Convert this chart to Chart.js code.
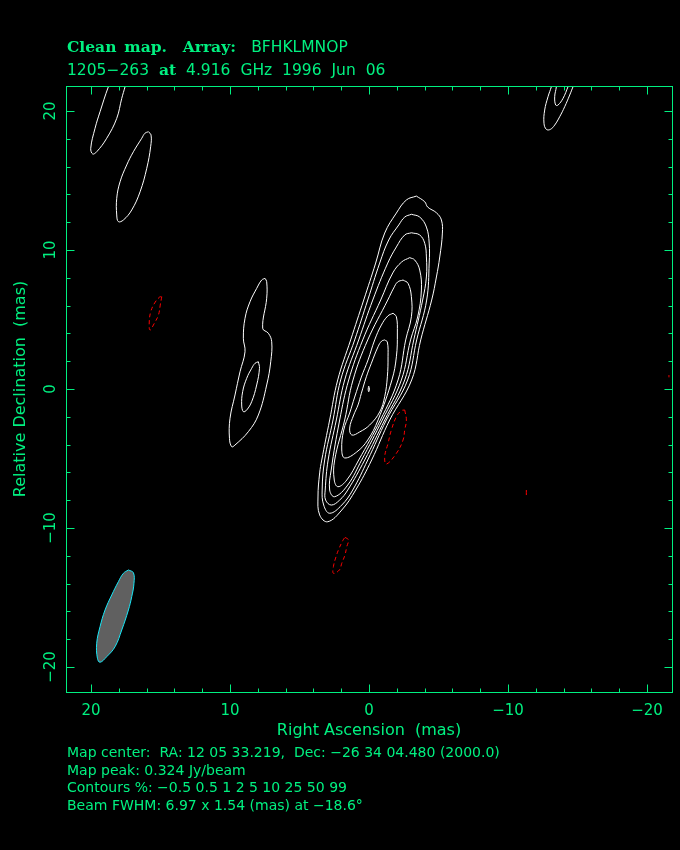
<!DOCTYPE html>
<html>
<head>
<meta charset="utf-8">
<script src="https://cdn.jsdelivr.net/npm/chart.js@4.4.1/dist/chart.umd.min.js"></script>
<style>
  html, body { margin: 0; padding: 0; background: #000; }
  #wrap { position: relative; width: 680px; height: 850px; background: #000; }
  #map { position: absolute; left: 0; top: 0; }
  .txt { position: absolute; left: 67px; color: #00f080; font-family: 'DejaVu Sans', sans-serif; white-space: pre; }
  .hdr { font-size: 15.5px; line-height: 20px; }
  .serif { font-family: 'DejaVu Serif', serif; font-weight: bold; }
  #foot { top: 744px; font-size: 14px; line-height: 17.7px; }
</style>
</head>
<body>
<div id="wrap">
  <canvas id="map" width="680" height="850"></canvas>
  <div class="txt hdr" style="top:37px; word-spacing:2.5px"><span class="serif">Clean map.  Array: </span> BFHKLMNOP</div>
  <div class="txt hdr" style="top:60px; word-spacing:5px">1205−263 <span class="serif">at</span> 4.916 GHz 1996 Jun 06</div>
  <div class="txt" id="foot"></div>
</div>
<script>
// map info (mas offsets from map centre, RA increases to the left)
const mapCenter = 'RA: 12 05 33.219,  Dec: −26 34 04.480 (2000.0)';
const mapPeak = 0.324;                       // Jy/beam
const contourLevels = [-0.5, 0.5, 1, 2, 5, 10, 25, 50, 99];
const beamFwhm = [6.97, 1.54, -18.6];        // major, minor (mas), PA (deg)

const tickValues = [-20, -18, -16, -14, -12, -10, -8, -6, -4, -2, 0, 2, 4, 6, 8, 10, 12, 14, 16, 18, 20];
const tickLabels = [20, 10, 0, -10, -20];

// contours, [RA, Dec] in mas
const core05 = [[-3.41,13.88],[-4.01,13.47],[-4.22,13.09],[-4.85,12.68],[-5.21,12.16],[-5.28,11.22],[-5.09,9.50],[-4.85,8.06],[-4.51,6.40],[-3.72,3.53],[-3.07,0.65],[-1.49,-2.23],[-0.19,-5.11],[0.96,-7.27],[1.96,-8.71],[2.97,-9.55],[3.55,-9.06],[3.67,-7.77],[3.55,-6.04],[3.40,-5.11],[2.83,-2.23],[2.25,0.65],[1.32,3.53],[0.38,6.40],[-0.48,9.06],[-1.13,11.22],[-1.97,12.66],[-2.69,13.60]];
const core1 = [[-3.05,12.57],[-3.65,12.37],[-4.13,11.65],[-4.33,10.50],[-4.33,9.06],[-4.15,6.40],[-3.43,3.53],[-2.78,0.65],[-1.25,-2.23],[0.09,-5.11],[1.17,-7.27],[1.96,-8.35],[2.83,-8.94],[3.26,-8.35],[3.37,-7.27],[3.19,-5.11],[2.59,-2.23],[2.04,0.65],[1.03,3.53],[0.09,6.40],[-0.77,9.06],[-1.42,10.72],[-2.14,11.80],[-2.57,12.37]];
const core2 = [[-3.05,11.24],[-3.65,11.08],[-4.01,10.48],[-4.13,9.50],[-4.13,8.06],[-3.86,6.40],[-3.22,3.53],[-2.57,0.65],[-1.13,-2.23],[0.31,-5.11],[1.53,-7.27],[2.11,-7.99],[2.71,-8.35],[3.12,-7.99],[3.15,-7.27],[2.94,-5.11],[2.35,-2.23],[1.75,0.65],[0.74,3.53],[-0.27,6.40],[-1.35,9.06],[-1.97,10.22],[-2.57,11.08]];
const core5 = [[-2.93,9.45],[-3.29,9.28],[-3.65,8.56],[-3.77,7.12],[-3.50,5.18],[-2.99,3.53],[-2.33,0.65],[-0.96,-2.23],[0.53,-5.11],[1.53,-6.91],[2.47,-7.75],[2.83,-7.27],[2.72,-5.83],[2.11,-2.23],[1.46,0.65],[0.45,3.53],[-0.84,6.40],[-1.71,8.35],[-2.35,9.14]];
const core10 = [[-2.45,7.84],[-2.81,7.60],[-3.05,6.64],[-3.05,5.20],[-2.64,3.53],[-2.09,0.65],[-0.82,-2.23],[0.74,-5.11],[1.60,-6.55],[2.23,-7.03],[2.50,-6.55],[2.47,-5.11],[1.75,-2.23],[1.15,0.65],[0.09,3.53],[-1.35,6.40],[-1.78,7.27],[-2.06,7.70]];
const core25 = [[-1.73,5.45],[-1.97,5.20],[-2.04,4.03],[-1.97,2.32],[-1.65,0.65],[-0.65,-2.23],[0.09,-3.67],[0.88,-4.53],[1.75,-4.96],[1.96,-4.39],[1.82,-2.95],[1.39,-1.73],[1.03,-0.58],[0.55,0.86],[0.07,2.09],[-0.41,3.53],[-0.89,4.60],[-1.35,5.25]];
const core50 = [[-1.13,3.53],[-1.32,3.38],[-1.37,2.32],[-1.32,0.88],[-1.13,-0.55],[-0.77,-1.65],[-0.05,-2.59],[0.67,-3.09],[1.24,-3.31],[1.39,-2.81],[1.10,-1.87],[0.79,-1.15],[0.55,-0.31],[0.19,0.88],[-0.17,1.85],[-0.65,3.04],[-0.91,3.45]];
const core99 = [[0.02,0.20],[-0.03,0.00],[0.02,-0.20],[0.06,0.00]];

const knotA = [[18.51,22.23],[18.75,21.75],[19.35,19.95],[19.71,18.76],[20.02,17.32],[19.88,16.91],[19.59,17.07],[18.87,18.04],[18.15,19.47],[17.79,20.91],[17.55,21.75],[17.43,22.23]];
const knotB = [[15.87,18.51],[15.68,18.27],[15.71,17.43],[15.99,15.88],[16.47,14.19],[17.07,12.88],[17.67,12.16],[18.03,12.04],[18.15,12.52],[18.15,13.72],[17.91,14.91],[17.43,16.12],[16.95,17.07],[16.35,18.04],[16.12,18.40]];
const knotC = [[7.48,7.96],[7.36,7.72],[7.36,6.53],[7.65,4.37],[7.24,4.01],[7.00,3.40],[7.07,1.96],[7.36,0.29],[7.96,-1.87],[8.68,-3.07],[9.64,-4.03],[9.88,-4.15],[10.04,-3.55],[10.00,-2.11],[9.64,-0.43],[9.28,1.24],[8.92,2.68],[9.04,3.65],[8.92,5.09],[8.56,6.28],[8.08,7.24],[7.72,7.84]];
const knotCin = [[7.96,1.96],[7.88,1.49],[8.08,0.29],[8.44,-0.91],[8.80,-1.51],[9.04,-1.63],[9.16,-1.15],[9.09,-0.19],[8.80,0.77],[8.44,1.49],[8.20,1.85]];
const knotE = [[-13.22,22.23],[-13.12,21.75],[-12.88,21.03],[-12.64,20.07],[-12.59,19.12],[-12.76,18.68],[-13.05,18.68],[-13.36,18.99],[-13.72,19.59],[-14.08,20.31],[-14.44,21.15],[-14.68,21.75],[-14.87,22.23]];
const knotEin = [[-13.50,22.23],[-13.48,21.75],[-13.36,21.03],[-13.43,20.43],[-13.60,20.43],[-13.96,20.91],[-14.32,21.75],[-14.51,22.23]];

// -0.5 % contours
const neg1 = [[14.91,6.64],[15.02,6.04],[15.15,5.32],[15.47,4.68],[15.76,4.24],[15.81,4.82],[15.71,5.54],[15.42,6.19],[15.06,6.62]];
const neg2 = [[-2.57,-1.51],[-2.69,-2.23],[-2.57,-2.95],[-2.45,-3.67],[-1.97,-4.63],[-1.25,-5.40],[-1.13,-4.87],[-1.37,-3.91],[-1.61,-2.95],[-1.97,-1.99],[-2.33,-1.56]];
const neg3 = [[1.73,-10.67],[1.48,-10.86],[1.60,-11.35],[1.73,-11.94],[1.96,-12.54],[2.13,-13.02],[2.56,-13.26],[2.56,-12.78],[2.37,-12.06],[2.20,-11.58],[1.89,-10.91]];
const neg4 = [[-11.32,-7.27],[-11.32,-7.63]];
const neg5 = [[-21.58,1.00],[-21.58,0.84]];

// restoring beam outline
const beam = [[17.31,-13.02],[16.95,-13.22],[16.91,-13.98],[17.07,-14.94],[17.31,-15.90],[17.79,-17.34],[18.27,-18.54],[18.87,-19.26],[19.35,-19.66],[19.54,-19.37],[19.59,-18.29],[19.35,-17.10],[18.99,-15.90],[18.51,-14.82],[18.03,-13.86],[17.67,-13.26]];

const GREEN = '#00f080';
const fmt = v => String(v).replace('-', '\u2212');

document.getElementById('foot').textContent =
  'Map center:  ' + mapCenter + '\n' +
  'Map peak: ' + mapPeak + ' Jy/beam\n' +
  'Contours %: ' + contourLevels.map(fmt).join(' ') + '\n' +
  'Beam FWHM: ' + beamFwhm[0] + ' x ' + beamFwhm[1] + ' (mas) at ' + fmt(beamFwhm[2]) + '\u00b0';

const pts = arr => arr.map(p => ({x: p[0], y: p[1]}));
const loop = arr => pts(arr.concat([arr[0]]));

function contour(label, data, color, dash) {
  return {
    label: label, data: data, showLine: true, pointRadius: 0,
    borderColor: color, borderWidth: 1, borderDash: dash || [],
    tension: 0.4, fill: false
  };
}

const datasets = [
  Object.assign(contour('beam', loop(beam), '#18e8f8'), { fill: 'shape', backgroundColor: '#606060' }),
  contour('0.5', loop(core05), '#fff'),
  contour('1', loop(core1), '#fff'),
  contour('2', loop(core2), '#fff'),
  contour('5', loop(core5), '#fff'),
  contour('10', loop(core10), '#fff'),
  contour('25', loop(core25), '#fff'),
  contour('50', loop(core50), '#fff'),
  contour('99', loop(core99), '#fff'),
  contour('0.5', pts(knotA), '#fff'),
  contour('0.5', loop(knotB), '#fff'),
  contour('0.5', loop(knotC), '#fff'),
  contour('1', loop(knotCin), '#fff'),
  contour('0.5', pts(knotE), '#fff'),
  contour('1', pts(knotEin), '#fff'),
  contour('-0.5', loop(neg1), '#ff0000', [4, 3]),
  contour('-0.5', loop(neg2), '#ff0000', [4, 3]),
  contour('-0.5', loop(neg3), '#ff0000', [4, 3]),
  contour('-0.5', pts(neg4), '#ff0000'),
  contour('-0.5', pts(neg5), '#ff0000')
];

// box with inward ticks on all four sides, labels on bottom and left
const frameTicks = {
  id: 'frameTicks',
  afterDraw(chart) {
    const {ctx, chartArea: a, scales: {x, y}} = chart;
    ctx.save();
    ctx.strokeStyle = GREEN;
    ctx.lineWidth = 1;
    ctx.strokeRect(a.left + 0.5, a.top + 0.5, a.width, a.height);
    const top = a.top + 0.5, bot = a.bottom + 0.5, lft = a.left + 0.5, rgt = a.right + 0.5;
    ctx.beginPath();
    tickValues.forEach(v => {
      const len = v % 10 === 0 ? 8 : 4;
      const px = Math.round(x.getPixelForValue(v)) + 0.5;
      const py = Math.round(y.getPixelForValue(v)) + 0.5;
      ctx.moveTo(px, bot); ctx.lineTo(px, bot - len);
      ctx.moveTo(px, top); ctx.lineTo(px, top + len);
      ctx.moveTo(lft, py); ctx.lineTo(lft + len, py);
      ctx.moveTo(rgt, py); ctx.lineTo(rgt - len, py);
    });
    ctx.stroke();
    ctx.fillStyle = GREEN;
    ctx.font = '15px "DejaVu Sans"';
    ctx.textAlign = 'center';
    ctx.textBaseline = 'alphabetic';
    tickLabels.forEach(v => {
      ctx.fillText(fmt(v), x.getPixelForValue(v), a.bottom + 22.5);
      ctx.save();
      ctx.translate(a.left - 11, y.getPixelForValue(v));
      ctx.rotate(-Math.PI / 2);
      ctx.fillText(fmt(v), 0, 0);
      ctx.restore();
    });
    ctx.restore();
  }
};

const axisTitle = text => ({
  display: true, text: text, color: GREEN,
  font: { family: 'DejaVu Sans', size: 16, lineHeight: 1.2 }
});

new Chart(document.getElementById('map'), {
  type: 'scatter',
  data: { datasets: datasets },
  options: {
    responsive: false,
    animation: false,
    devicePixelRatio: 1,
    layout: { padding: { top: 86, right: 8, bottom: 100, left: 0 } },
    plugins: { legend: { display: false }, tooltip: { enabled: false } },
    scales: {
      x: {
        type: 'linear', position: 'bottom', reverse: true, min: -21.8, max: 21.8,
        ticks: { display: false }, grid: { display: false }, border: { display: false },
        title: Object.assign(axisTitle('Right Ascension  (mas)'), { padding: { top: 0, bottom: 9.4 } }),
        afterFit(s) { s.height = 58; }
      },
      y: {
        type: 'linear', position: 'left', min: -21.8, max: 21.8,
        ticks: { display: false }, grid: { display: false }, border: { display: false },
        title: Object.assign(axisTitle('Relative Declination  (mas)'), { padding: { top: 11.4, bottom: 0 } }),
        afterFit(s) { s.width = 66; }
      }
    }
  },
  plugins: [frameTicks]
});
</script>
</body>
</html>
